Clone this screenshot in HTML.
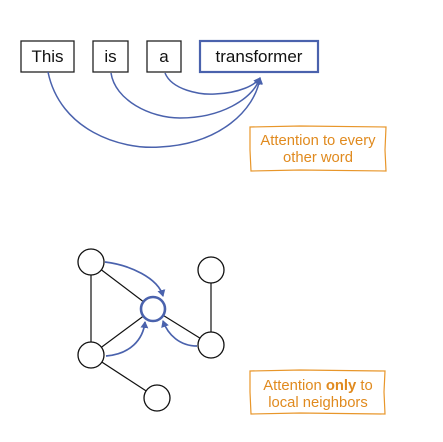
<!DOCTYPE html>
<html><head><meta charset="utf-8"><style>
html,body{margin:0;padding:0;background:#fff;}
svg{display:block;}
text{font-family:"Liberation Sans",sans-serif;}
</style></head><body>
<svg width="443" height="442" viewBox="0 0 443 442" xmlns="http://www.w3.org/2000/svg">
<defs>
<marker id="ah" markerWidth="8" markerHeight="8" refX="6" refY="4" orient="auto" markerUnits="userSpaceOnUse">
<path d="M0,0 L7,4 L0,8 Z" fill="#4a62ad"/></marker>
</defs>
<g fill="#fff" stroke="#222" stroke-width="1.3">
<rect x="21" y="41" width="53" height="31"/>
<rect x="93" y="41" width="35" height="31"/>
<rect x="147" y="41" width="34" height="31"/>
</g>
<rect x="200" y="41" width="118" height="31" fill="#fff" stroke="#4a62ad" stroke-width="2.2"/>
<g font-size="17" fill="#111" text-anchor="middle">
<text x="47.5" y="62">This</text>
<text x="110.5" y="62">is</text>
<text x="164" y="62">a</text>
<text x="259" y="62">transformer</text>
</g>
<g fill="none" stroke="#4a62ad" stroke-width="1.5">
<path d="M48,72 C60,130 120,150 160,147 C220,144 255,110 260,78" marker-end="url(#ah)"/>
<path d="M111,73 C115,100 150,118 180,118 C220,118 252,100 260,78" marker-end="url(#ah)"/>
<path d="M165,73 C172,90 200,95 215,94 C240,93 255,85 260,78" marker-end="url(#ah)"/>
</g>
<path d="M250,127 L300,126 L386,127 L385,150 L386,171 L300,170 L251,171 L250,150 Z" fill="#fff" stroke="#e8962a" stroke-width="1.2"/>
<g font-size="14.8" fill="#e08a1e" text-anchor="middle">
<text x="318" y="145">Attention to every</text>
<text x="318" y="162">other word</text>
</g>
<g stroke="#111" stroke-width="1.2">
<line x1="91" y1="262" x2="91" y2="355"/>
<line x1="91" y1="262" x2="153" y2="309"/>
<line x1="91" y1="355" x2="153" y2="309"/>
<line x1="91" y1="355" x2="157" y2="398"/>
<line x1="211" y1="270" x2="211" y2="345"/>
<line x1="211" y1="345" x2="153" y2="309"/>
</g>
<g fill="none" stroke="#4a62ad" stroke-width="1.7">
<path d="M105,262 C130,265 158,278 163,296" marker-end="url(#ah)"/>
<path d="M106,356 C130,354 143,340 145,322" marker-end="url(#ah)"/>
<path d="M197,346 C180,346 168,335 163,321" marker-end="url(#ah)"/>
</g>
<g fill="#fff" stroke="#111" stroke-width="1.3">
<circle cx="91" cy="262" r="13"/>
<circle cx="211" cy="270" r="13"/>
<circle cx="91" cy="355" r="13"/>
<circle cx="211" cy="345" r="13"/>
<circle cx="157" cy="398" r="13"/>
</g>
<circle cx="153" cy="309" r="12" fill="#fff" stroke="#4a62ad" stroke-width="2.6"/>
<path d="M250,371 L300,370 L385,371 L384,392 L385,414 L300,413 L251,414 L250,392 Z" fill="#fff" stroke="#e8962a" stroke-width="1.2"/>
<g font-size="14.8" fill="#e08a1e" text-anchor="middle">
<text x="318" y="390">Attention <tspan font-weight="bold">only</tspan> to</text>
<text x="318" y="407">local neighbors</text>
</g>
</svg>
</body></html>
